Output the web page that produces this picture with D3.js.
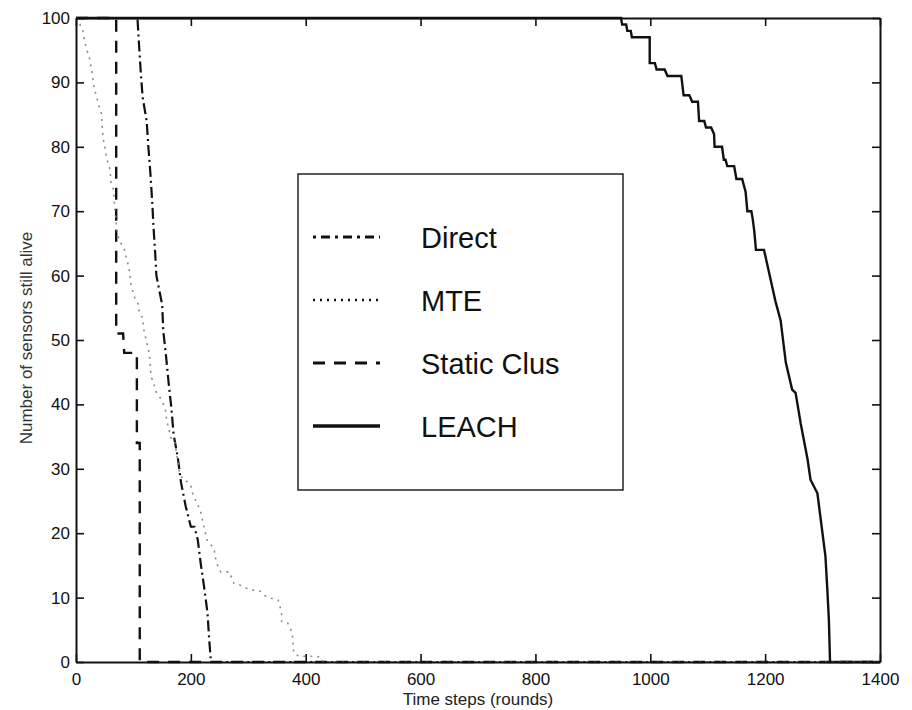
<!DOCTYPE html>
<html>
<head>
<meta charset="utf-8">
<script src="https://cdn.jsdelivr.net/npm/d3@7"></script>
<style>
  body { margin: 0; background: #fff; }
  text { font-family: "Liberation Sans", Arial, sans-serif; }
</style>
</head>
<body>
<script>
var svg_width  = 912;
var svg_height = 710;

// sensors alive over time, [round, alive]
var direct = [[0,100],[107,100],[110,95.5],[113,91.3],[116,87.7],[123,84],[126,80],[130,75.3],
  [133,71],[135,67.5],[138,63.3],[140,60],[142,59.1],[150,55.5],[152,51.4],[157,47.3],[161,43.6],
  [166,39.5],[170,35.3],[177,31.9],[183,27.8],[191,24.2],[200,21],[206,21],[212,19],[217,15.4],
  [223,11.7],[229,7.6],[232,3.4],[235,0],[1400,0]];

var mte = [[0,100],[7,99],[12,98],[14,97],[16,96],[19,95],[23,94],[25,93],[28,91.5],[30,90],
  [32,89],[35,88],[38,87],[41,86],[45,85],[45,84],[46,82.5],[48,81],[52,79],[54,78],[58,77],
  [60,75.6],[61,74.4],[65,73.4],[68,70],[72,66.4],[77,65.2],[84,64.2],[87,63],[90,62],[93,60.7],
  [96,58.4],[100,57.3],[103,56.3],[109,55.5],[110,54.4],[116,53.4],[117,52.4],[119,51.1],
  [122,50.1],[125,48.9],[128,47.7],[129,46.5],[130,45.1],[132,44.1],[136,43],[139,42],[145,41.3],
  [151,40.2],[155,39.5],[157,38.2],[159,37.1],[162,36.1],[165,34.8],[171,34.5],[174,33],
  [180,29.6],[186,28.3],[194,28],[200,27.3],[203,26.2],[212,24.4],[217,23.4],[220,22.1],
  [223,20.9],[229,18.7],[238,17.9],[241,17.2],[243,16.1],[246,15.1],[252,14],[267,14],[270,13.3],
  [275,12.2],[284,12],[296,11.5],[307,11.2],[321,11],[329,10.3],[340,9.9],[352,9.6],[355,8.7],
  [358,7.5],[358,6.3],[369,6],[374,5.1],[377,4],[378,2.8],[379,1.4],[388,0.9],[417,0.9],
  [427,0.7],[430,0],[1400,0]];

var staticClus = [[0,100],[70,100],[70,51],[82,51],[84,48],[106,48],[106,34],[111,34],[111,0],[1400,0]];

var leach = [[0,100],[949,100],[951,99],[958,99],[960,98],[966,98],[968,97],[999,97],[999,93],
  [1008,93],[1011,92],[1025,92],[1030,91],[1054,91],[1058,88],[1068,88],[1073,87],[1083,87],
  [1085,84],[1094,84],[1097,83],[1106,83],[1111,82],[1112,80],[1125,80],[1128,78],[1131,78],
  [1134,77],[1146,77],[1150,75],[1160,75],[1166,73],[1169,70],[1176,70],[1178,69],[1181,67],
  [1184,64],[1198,64],[1213,58],[1218,56],[1227,53],[1236,46.5],[1247,42.3],[1253,41.8],
  [1262,37],[1274,31.4],[1279,28.3],[1291,26.2],[1297,22],[1305,16.4],[1308,11.7],[1311,6.5],
  [1313,0],[1400,0]];

var xTicks = [0,200,400,600,800,1000,1200,1400];
var yTicks = [0,10,20,30,40,50,60,70,80,90,100];

var legendNames = ["Direct","MTE","Static Clus","LEACH"];

var series = [
  {name: "LEACH",       data: leach,      color: "#111", width: 2.4, dash: null},
  {name: "Static Clus", data: staticClus, color: "#111", width: 2.4, dash: "12,9"},
  {name: "Direct",      data: direct,     color: "#111", width: 2.2, dash: "11,4,2,4"},
  {name: "MTE",         data: mte,        color: "#8a8a8a", width: 1.6, dash: "2,5"}
];

var svg = d3.select('body').append('svg')
            .attr('width', svg_width)
            .attr('height', svg_height);

var x = d3.scaleLinear().domain([0,1400]).range([76,880]);
var y = d3.scaleLinear().domain([0,100]).range([662,18]);

var line = d3.line()
             .x(d => x(d[0]))
             .y(d => y(d[1]));

// curves
svg.append("g")
   .selectAll("path")
   .data(series)
   .enter().append("path")
   .attr("d", d => line(d.data))
   .attr("fill", "none")
   .attr("stroke", d => d.color)
   .attr("stroke-width", d => d.width)
   .attr("stroke-dasharray", d => d.dash);

// axes, ticks inward on all sides
function styleAxis(g) {
  g.select(".domain").attr("stroke", "#111").attr("stroke-width", 2);
  g.selectAll(".tick line").attr("stroke", "#111").attr("stroke-width", 1.6);
  g.selectAll(".tick text").attr("fill", "#111").style("font-size", "17px")
   .style("font-family", '"Liberation Sans", Arial, sans-serif');
}

svg.append("g")
   .attr("transform", "translate(0,662)")
   .call(d3.axisBottom(x).tickValues(xTicks).tickFormat(d3.format("d"))
           .tickSizeInner(-8).tickSizeOuter(0).tickPadding(11))
   .call(styleAxis);

svg.append("g")
   .attr("transform", "translate(0,18)")
   .call(d3.axisTop(x).tickValues(xTicks).tickSizeInner(-8).tickSizeOuter(0).tickFormat(""))
   .call(styleAxis);

svg.append("g")
   .attr("transform", "translate(76,0)")
   .call(d3.axisLeft(y).tickValues(yTicks).tickSizeInner(-8).tickSizeOuter(0).tickPadding(6))
   .call(styleAxis);

svg.append("g")
   .attr("transform", "translate(880,0)")
   .call(d3.axisRight(y).tickValues(yTicks).tickSizeInner(-8).tickSizeOuter(0).tickFormat(""))
   .call(styleAxis);

// axis titles
svg.append("text")
   .attr("x", 478).attr("y", 705)
   .attr("text-anchor", "middle")
   .style("font-size", "17px")
   .attr("fill", "#222")
   .text("Time steps (rounds)");

svg.append("text")
   .attr("transform", "translate(32,338) rotate(-90)")
   .attr("text-anchor", "middle")
   .style("font-size", "17px")
   .attr("fill", "#333")
   .text("Number of sensors still alive");

// legend
var legend = svg.append("g");
legend.append("rect")
      .attr("x", 298).attr("y", 174)
      .attr("width", 325).attr("height", 316)
      .attr("fill", "#fff")
      .attr("stroke", "#222")
      .attr("stroke-width", 1.5);

var items = legend.selectAll("g.item")
      .data(legendNames)
      .enter().append("g")
      .attr("class", "item")
      .attr("transform", (d, i) => "translate(0," + (237 + i * 63) + ")");

items.append("line")
     .attr("x1", 313).attr("x2", 380)
     .attr("stroke", "#111")
     .attr("stroke-width", d => d == "LEACH" ? 3.5 : d == "MTE" ? 2.5 : 3)
     .attr("stroke-dasharray", d => d == "Direct" ? "3,5,9,5" : d == "MTE" ? "2,5" : series.find(s => s.name == d).dash);

items.append("text")
     .attr("x", 421).attr("y", 11)
     .style("font-size", "29px")
     .attr("fill", "#111")
     .text(d => d);
</script>
</body>
</html>
